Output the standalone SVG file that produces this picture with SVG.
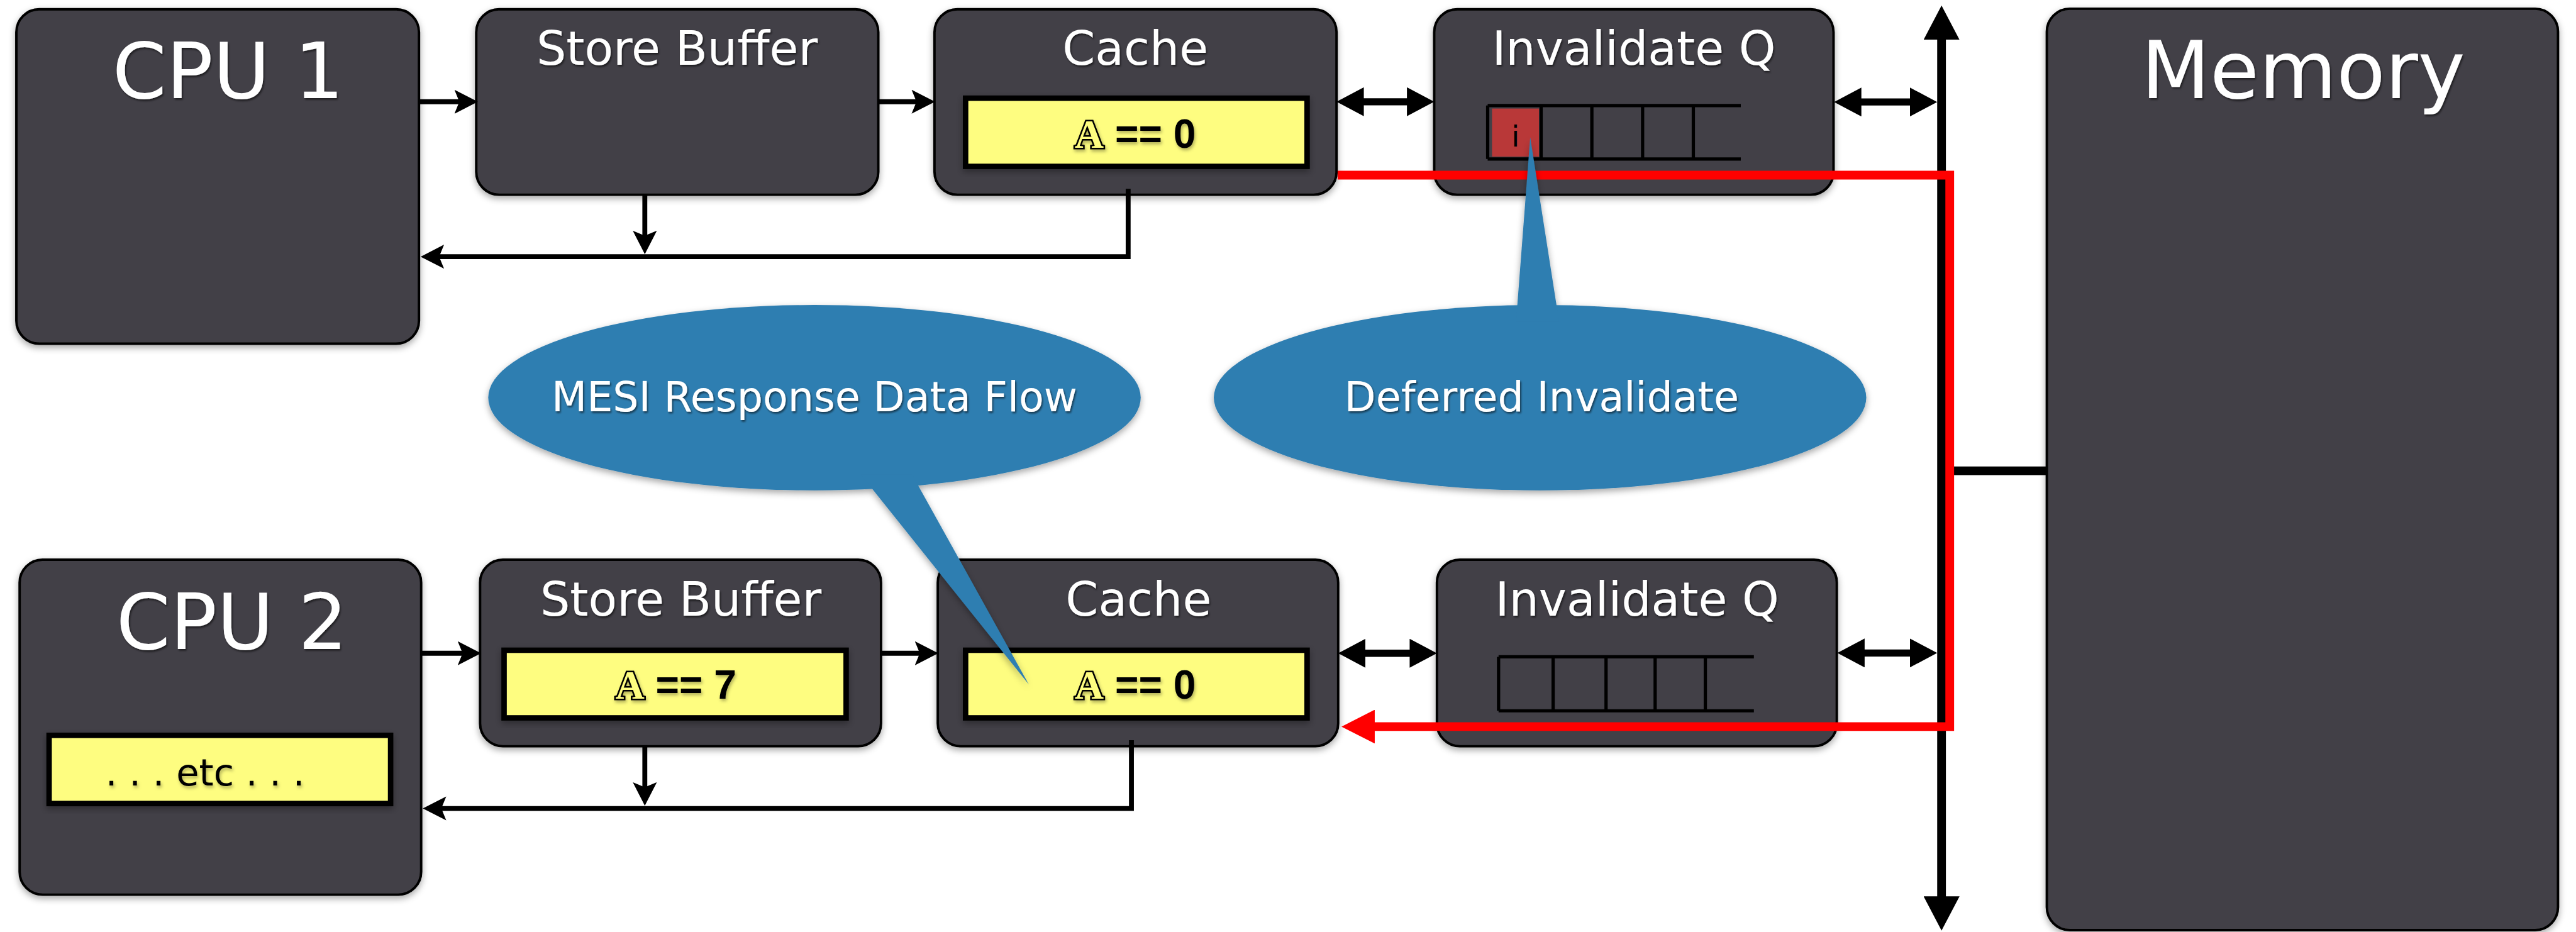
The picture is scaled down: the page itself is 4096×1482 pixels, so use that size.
<svg xmlns="http://www.w3.org/2000/svg" width="4096" height="1482" viewBox="0 0 4096 1482">
<defs>
<style>
.box{fill:#434146;stroke:#000;stroke-width:4.5}
.ttl{font-family:"DejaVu Sans","Liberation Sans",sans-serif;fill:#fff;text-anchor:middle}
.big{font-size:142px}
.mid{font-size:86px}
.yel{fill:#fefd80;stroke:#000;stroke-width:10}
.val{font-family:"Liberation Sans",Arial,sans-serif;font-weight:bold;font-size:74px;fill:#000;text-anchor:middle}
.A{font-family:"Liberation Serif",serif;font-weight:bold;fill:#fefd80;stroke:#000;stroke-width:6;paint-order:stroke}
.q{fill:none;stroke:#000;stroke-width:6}
.ln{fill:none;stroke:#000;stroke-width:9;stroke-linejoin:miter}
.dbl{fill:none;stroke:#000;stroke-width:13}
.bus{fill:none;stroke:#000;stroke-width:16}
.red{fill:none;stroke:#ff0000;stroke-width:16;stroke-linejoin:miter}
.bub{fill:#2f7eb1}
.btxt{font-family:"DejaVu Sans","Liberation Sans",sans-serif;font-size:75px;fill:#fff;text-anchor:middle}
</style>
<filter id="sh" x="-10%" y="-10%" width="120%" height="125%"><feDropShadow dx="0" dy="5" stdDeviation="6" flood-color="#000" flood-opacity="0.35"/></filter>
<filter id="tsh" x="-10%" y="-20%" width="120%" height="150%"><feDropShadow dx="2" dy="3" stdDeviation="2" flood-color="#000" flood-opacity="0.55"/></filter>
<filter id="tsh2" x="-10%" y="-20%" width="120%" height="150%"><feDropShadow dx="2" dy="4" stdDeviation="3" flood-color="#000" flood-opacity="0.3"/></filter>
<marker id="notch" markerUnits="userSpaceOnUse" markerWidth="44" markerHeight="44" refX="12" refY="22" orient="auto-start-reverse" viewBox="0 0 44 44"><path d="M0,0 L43,22 L0,44 L9,22 Z" fill="#000"/></marker>
<marker id="tri" markerUnits="userSpaceOnUse" markerWidth="51" markerHeight="53" refX="1" refY="26.5" orient="auto-start-reverse" viewBox="0 0 51 53"><path d="M0,0 L50,26.5 L0,53 Z" fill="#000"/></marker>
<marker id="bustri" markerUnits="userSpaceOnUse" markerWidth="64" markerHeight="66" refX="1" refY="33" orient="auto-start-reverse" viewBox="0 0 64 66"><path d="M0,0 L63,33 L0,66 Z" fill="#000"/></marker>
<marker id="redtri" markerUnits="userSpaceOnUse" markerWidth="62" markerHeight="62" refX="1" refY="31" orient="auto-start-reverse" viewBox="0 0 62 62"><path d="M0,0 L61,31 L0,62 Z" fill="#ff0000"/></marker>
</defs>
<rect width="4096" height="1482" fill="#fff"/>
<g transform="scale(0.86743)">

<g id="cpu1">
<rect class="box" x="30" y="17" width="738" height="613" rx="42" filter="url(#sh)"/>
<text class="ttl big" x="418" y="180" filter="url(#tsh)">CPU 1</text>
</g>
<g id="storebuffer1">
<rect class="box" x="873" y="17" width="737" height="340" rx="42" filter="url(#sh)"/>
<text class="ttl mid" x="1241" y="119" filter="url(#tsh)">Store Buffer</text>
</g>
<g id="cache1">
<rect class="box" x="1713" y="17" width="737" height="340" rx="42" filter="url(#sh)"/>
<text class="ttl mid" x="2081" y="119" filter="url(#tsh)">Cache</text>
<rect class="yel" x="1770" y="180" width="626" height="125" filter="url(#sh)"/>
<text class="val" x="2081" y="271" filter="url(#tsh2)"><tspan class="A">A</tspan> == 0</text>
</g>
<g id="invq1">
<rect class="box" x="2629" y="17" width="732" height="340" rx="42" filter="url(#sh)"/>
<text class="ttl mid" x="2995" y="119" filter="url(#tsh)">Invalidate Q</text>
<rect x="2735" y="199" width="86" height="88" fill="#b93838"/>
<path class="q" d="M2727,193.5 H3191 M2727,291.5 H3191 M2727,193.5 V291.5 M2825,193.5 V291.5 M2918,193.5 V291.5 M3011,193.5 V291.5 M3104,193.5 V291.5"/>
<text x="2778" y="269" font-family="'DejaVu Sans',sans-serif" font-size="54" text-anchor="middle" fill="#000">i</text>
</g>
<g id="memory">
<rect class="box" x="3752" y="16" width="937" height="1689" rx="42" stroke-width="3.5" filter="url(#sh)"/>
<text class="ttl" x="4222" y="180" font-size="146" filter="url(#tsh)">Memory</text>
</g>
<g id="cpu2">
<rect class="box" x="36" y="1026" width="736" height="614" rx="42" filter="url(#sh)"/>
<text class="ttl big" x="425" y="1190" filter="url(#tsh)">CPU 2</text>
<rect class="yel" x="90" y="1348" width="626" height="125" filter="url(#sh)"/>
<text x="376" y="1440" font-family="'DejaVu Sans',sans-serif" font-size="68" text-anchor="middle" fill="#000" filter="url(#tsh2)">. . . etc . . .</text>
</g>
<g id="storebuffer2">
<rect class="box" x="880" y="1026" width="735" height="342" rx="42" filter="url(#sh)"/>
<text class="ttl mid" x="1248" y="1129" filter="url(#tsh)">Store Buffer</text>
<rect class="yel" x="924" y="1192" width="627" height="124" filter="url(#sh)"/>
<text class="val" x="1239" y="1281" filter="url(#tsh2)"><tspan class="A">A</tspan> == 7</text>
</g>
<g id="cache2">
<rect class="box" x="1719" y="1026" width="734" height="342" rx="42" filter="url(#sh)"/>
<text class="ttl mid" x="2087" y="1129" filter="url(#tsh)">Cache</text>
<rect class="yel" x="1770" y="1192" width="626" height="124" filter="url(#sh)"/>
<text class="val" x="2081" y="1281" filter="url(#tsh2)"><tspan class="A">A</tspan> == 0</text>
</g>
<g id="invq2">
<rect class="box" x="2634" y="1026" width="733" height="342" rx="42" filter="url(#sh)"/>
<text class="ttl mid" x="3001" y="1129" filter="url(#tsh)">Invalidate Q</text>
<path class="q" d="M2747,1204 H3215 M2747,1303 H3215 M2747,1204 V1303 M2847,1204 V1303 M2944,1204 V1303 M3034,1204 V1303 M3126,1204 V1303"/>
</g>

<g id="connectors">
<path class="ln" d="M768,186.5 H845" marker-end="url(#notch)"/>
<path class="ln" d="M1610,186.5 H1683" marker-end="url(#notch)"/>
<path class="ln" d="M772,1197.5 H851" marker-end="url(#notch)"/>
<path class="ln" d="M1615,1197.5 H1689" marker-end="url(#notch)"/>
<path class="ln" d="M2068,346 V470.5 H802" marker-end="url(#notch)"/>
<path class="ln" d="M1182,357 V435" marker-end="url(#notch)"/>
<path class="ln" d="M2074,1357 V1482 H806" marker-end="url(#notch)"/>
<path class="ln" d="M1182,1368 V1446" marker-end="url(#notch)"/>
<path class="dbl" d="M2499,186.5 H2580" marker-start="url(#tri)" marker-end="url(#tri)"/>
<path class="dbl" d="M3411,187 H3502" marker-start="url(#tri)" marker-end="url(#tri)"/>
<path class="dbl" d="M2502,1197.5 H2585" marker-start="url(#tri)" marker-end="url(#tri)"/>
<path class="dbl" d="M3417,1197 H3502" marker-start="url(#tri)" marker-end="url(#tri)"/>
<path class="bus" d="M3559,72 V1644" marker-start="url(#bustri)" marker-end="url(#bustri)"/>
<path class="bus" d="M3567,863 H3752"/>
<path class="red" d="M2452,321 H3574 V1332 H2519" marker-end="url(#redtri)"/>
</g>

<g id="callout-mesi" filter="url(#sh)">
<ellipse class="bub" cx="1493" cy="729" rx="598" ry="170"/>
<polygon class="bub" points="1578,870 1672,870 1886,1255"/>
<text class="btxt" x="1493" y="754" filter="url(#tsh)">MESI Response Data Flow</text>
</g>
<g id="callout-deferred" filter="url(#sh)">
<ellipse class="bub" cx="2823" cy="729" rx="598" ry="170"/>
<polygon class="bub" points="2779,590 2858,590 2805,252"/>
<text class="btxt" x="2826" y="754" filter="url(#tsh)">Deferred Invalidate</text>
</g>
</g>
</svg>
